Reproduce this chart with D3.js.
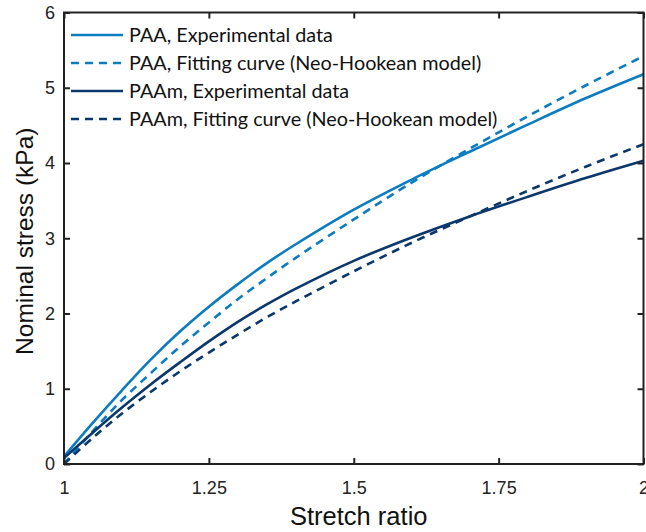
<!DOCTYPE html>
<html>
<head>
<meta charset="utf-8">
<script src="https://cdn.jsdelivr.net/npm/d3@7/dist/d3.min.js"></script>
<style>
  html, body { margin: 0; padding: 0; background: #fff; }
  svg { display: block; }
</style>
</head>
<body>
<svg id="chart" width="646" height="532"></svg>
<script>
// ---- data ----
const stretch = [1.0, 1.05, 1.1, 1.15, 1.2, 1.25, 1.3, 1.35, 1.4, 1.5, 1.6, 1.7, 1.8, 1.9, 2.0];
const paaExp  = [0.10, 0.55, 0.98, 1.39, 1.76, 2.09, 2.39, 2.67, 2.92, 3.38, 3.78, 4.15, 4.51, 4.86, 5.18];
const paaFit  = [0.00, 0.44, 0.85, 1.21, 1.56, 1.88, 2.19, 2.47, 2.74, 3.25, 3.74, 4.19, 4.62, 5.03, 5.42];
const paamExp = [0.08, 0.42, 0.75, 1.06, 1.35, 1.63, 1.89, 2.12, 2.33, 2.70, 3.01, 3.29, 3.55, 3.80, 4.03];
const paamFit = [0.00, 0.35, 0.67, 0.96, 1.23, 1.48, 1.72, 1.95, 2.16, 2.56, 2.94, 3.29, 3.63, 3.95, 4.25];
const xTicks = [1, 1.25, 1.5, 1.75, 2];
const xTickLabels = ["1", "1.25", "1.5", "1.75", "2"];
const yTicks = [0, 1, 2, 3, 4, 5, 6];
const seriesNames = [
  "PAA, Experimental data",
  "PAA, Fitting curve (Neo-Hookean model)",
  "PAAm, Experimental data",
  "PAAm, Fitting curve (Neo-Hookean model)"
];
const xTitle = "Stretch ratio";
const yTitle = "Nominal stress (kPa)";

// ---- layout / style ----
const svg = d3.select("#chart");
const L = 64, R = 643.5, T = 12.5, B = 464;
const x = d3.scaleLinear().domain([1, 2]).range([L, R]);
const y = d3.scaleLinear().domain([0, 6]).range([B, T]);
const cLight = "#0c7cc0", cDark = "#0b386c";
const styles = [
  { color: cLight, dash: null },
  { color: cLight, dash: "8,6" },
  { color: cDark, dash: null },
  { color: cDark, dash: "8,6" }
];
const allSeries = [paaExp, paaFit, paamExp, paamFit];

const line = d3.line()
  .x((d, i) => x(stretch[i]))
  .y(d => y(d))
  .curve(d3.curveCatmullRom.alpha(0.5));

// clip
svg.append("defs").append("clipPath").attr("id", "clip")
  .append("rect").attr("x", L).attr("y", T).attr("width", R - L).attr("height", B - T);

const plot = svg.append("g").attr("clip-path", "url(#clip)");
allSeries.forEach((s, k) => {
  plot.append("path")
    .datum(s)
    .attr("d", line)
    .attr("fill", "none")
    .attr("stroke", styles[k].color)
    .attr("stroke-width", 2.6)
    .attr("stroke-dasharray", styles[k].dash);
});

// axes (ticks inward, mirrored)
const tickLen = 6;
const axisFont = "'Liberation Sans', Arial, sans-serif";
const axB = svg.append("g").attr("transform", `translate(0,${B})`)
  .call(d3.axisBottom(x).tickValues(xTicks).tickFormat((d, i) => xTickLabels[i]).tickSize(-tickLen).tickPadding(17));
const axT = svg.append("g").attr("transform", `translate(0,${T})`)
  .call(d3.axisTop(x).tickValues(xTicks).tickFormat("").tickSize(-tickLen));
const axLft = svg.append("g").attr("transform", `translate(${L},0)`)
  .call(d3.axisLeft(y).tickValues(yTicks).tickFormat(d3.format("d")).tickSize(-tickLen).tickPadding(9));
const axRgt = svg.append("g").attr("transform", `translate(${R},0)`)
  .call(d3.axisRight(y).tickValues(yTicks).tickFormat("").tickSize(-tickLen));
[axB, axT, axLft, axRgt].forEach(a => {
  a.select(".domain").remove();
  a.selectAll(".tick line").attr("stroke", "#222").attr("stroke-width", 2);
  a.selectAll("text").attr("fill", "#222").style("font-family", axisFont).style("font-size", "18px");
});

// frame
svg.append("rect")
  .attr("x", L).attr("y", T).attr("width", R - L).attr("height", B - T)
  .attr("fill", "none").attr("stroke", "#222").attr("stroke-width", 2);

// axis titles
svg.append("text")
  .attr("x", (L + R) / 2 + 5).attr("y", 525)
  .attr("text-anchor", "middle")
  .style("font-family", axisFont).style("font-size", "25.5px").attr("fill", "#111")
  .text(xTitle);
svg.append("text")
  .attr("transform", `translate(33,${(T + B) / 2 + 3}) rotate(-90)`)
  .attr("text-anchor", "middle")
  .style("font-family", axisFont).style("font-size", "24.5px").attr("fill", "#111")
  .text(yTitle);

// legend
const legend = svg.append("g");
seriesNames.forEach((name, k) => {
  const yy = 35 + k * 28;
  legend.append("line")
    .attr("x1", 71).attr("x2", 123).attr("y1", yy).attr("y2", yy)
    .attr("stroke", styles[k].color).attr("stroke-width", 2.6)
    .attr("stroke-dasharray", styles[k].dash);
  legend.append("text")
    .attr("x", 129).attr("y", yy + 7)
    .style("font-family", "Lato, 'Open Sans', sans-serif").style("font-size", "19.8px").attr("fill", "#111")
    .text(name);
});
</script>
</body>
</html>
